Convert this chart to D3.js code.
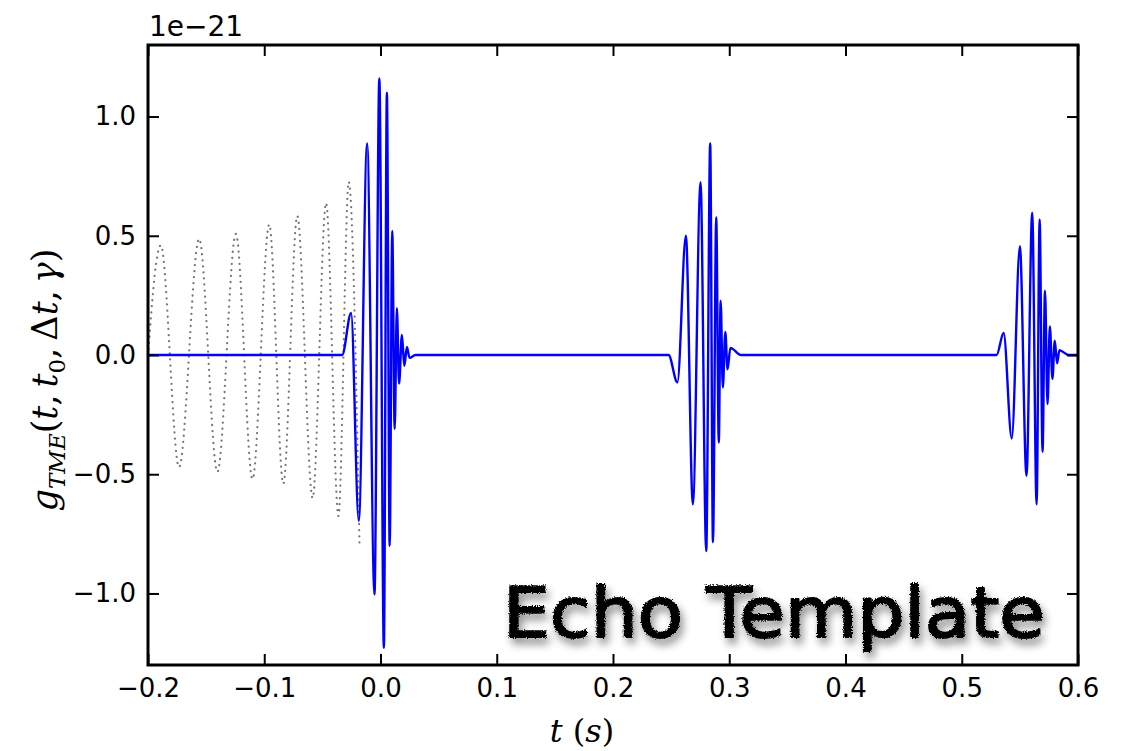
<!DOCTYPE html>
<html>
<head>
<meta charset="utf-8">
<script src="https://cdn.jsdelivr.net/npm/d3@7"></script>
<style>
  body { margin: 0; background: #fff; }
  svg { display: block; }
</style>
</head>
<body>
<div id="chart"></div>
<script>
// echo template (blue) - extrema, in units of 1e-21
const echoT = [-0.2, -0.033, -0.0253, -0.0187, -0.0115, -0.0052, -0.001, 0.0029, 0.0055, 0.0079, 0.0101, 0.0122, 0.0141, 0.016, 0.0184, 0.0205, 0.0227, 0.025, 0.03,
    0.2478, 0.2554, 0.2627, 0.2687, 0.2753, 0.2802, 0.2836, 0.286, 0.2888, 0.291, 0.2926, 0.2945, 0.2966, 0.2985, 0.301, 0.31,
    0.530, 0.536, 0.543, 0.550, 0.5557, 0.5606, 0.5644, 0.567, 0.5695, 0.5716, 0.5738, 0.5758, 0.578, 0.580, 0.582, 0.584, 0.592, 0.6];
const echoV = [0, 0, 0.176, -0.696, 0.887, -1.004, 1.16, -1.228, 1.10, -0.80, 0.52, -0.31, 0.196, -0.12, 0.084, -0.045, 0.034, -0.012, 0,
    0, -0.115, 0.50, -0.626, 0.725, -0.822, 0.887, -0.785, 0.578, -0.367, 0.228, -0.136, 0.097, -0.06, 0.03, 0,
    0, 0.092, -0.35, 0.456, -0.507, 0.597, -0.626, 0.568, -0.406, 0.27, -0.206, 0.12, -0.10, 0.06, -0.035, 0.02, 0, 0];

// inspiral part of the merger template (grey dotted)
const inspT = [-0.2055, -0.189, -0.1733, -0.156, -0.1403, -0.1244, -0.1101, -0.0957, -0.0836, -0.0716, -0.0584, -0.0468, -0.0362, -0.0273, -0.0181];
const inspV = [-0.46, 0.46, -0.47, 0.487, -0.49, 0.508, -0.52, 0.547, -0.54, 0.583, -0.60, 0.637, -0.675, 0.726, -0.79];

const xTicks = [-0.2, -0.1, 0.0, 0.1, 0.2, 0.3, 0.4, 0.5, 0.6];
const yTicks = [-1.0, -0.5, 0.0, 0.5, 1.0];

const W = 1121, H = 751;
const margin = {top: 45, right: 43, bottom: 86, left: 148};
const width = W - margin.left - margin.right,
      height = H - margin.top - margin.bottom;

const svg = d3.select("#chart").append("svg")
    .attr("width", W)
    .attr("height", H)
    .style("font-family", "'DejaVu Sans', sans-serif");

const defs = svg.append("defs");
defs.append("clipPath").attr("id", "plotclip")
  .append("rect").attr("width", width).attr("height", height);

// chalky look for the title
const rough = defs.append("filter").attr("id", "rough")
    .attr("x", "-5%").attr("y", "-20%").attr("width", "115%").attr("height", "150%");
rough.append("feTurbulence").attr("type", "fractalNoise").attr("baseFrequency", 0.9)
    .attr("numOctaves", 2).attr("seed", 3).attr("result", "noise");
rough.append("feDisplacementMap").attr("in", "SourceGraphic").attr("in2", "noise")
    .attr("scale", 4).attr("xChannelSelector", "R").attr("yChannelSelector", "G").attr("result", "rough");
rough.append("feGaussianBlur").attr("in", "rough").attr("stdDeviation", 4).attr("result", "blur");
rough.append("feOffset").attr("in", "blur").attr("dx", 3).attr("dy", 6).attr("result", "off");
rough.append("feComponentTransfer").attr("in", "off").attr("result", "shadow")
  .append("feFuncA").attr("type", "linear").attr("slope", 0.45);
const merge = rough.append("feMerge");
merge.append("feMergeNode").attr("in", "shadow");
merge.append("feMergeNode").attr("in", "rough");

const g = svg.append("g")
    .attr("transform", "translate(" + margin.left + "," + margin.top + ")");

const x = d3.scaleLinear().domain([-0.2, 0.6]).range([0, width]);
const y = d3.scaleLinear().domain([-1.3, 1.3]).range([height, 0]);

const plot = g.append("g").attr("clip-path", "url(#plotclip)");

const line = d3.line()
    .x(d => x(d[0]))
    .y(d => y(d[1]))
    .curve(d3.curveMonotoneX);

plot.append("path")
    .datum(inspT.map((t, i) => [t, inspV[i]]))
    .attr("d", line)
    .attr("fill", "none")
    .attr("stroke", "#777")
    .attr("stroke-width", 2.2)
    .attr("stroke-linecap", "round")
    .attr("stroke-dasharray", "0.1,6");

plot.append("path")
    .datum(echoT.map((t, i) => [t, echoV[i]]))
    .attr("d", line)
    .attr("fill", "none")
    .attr("stroke", "#0000ff")
    .attr("stroke-width", 2.4)
    .attr("stroke-linejoin", "round");

// axes, ticks inward on all four sides
const fmt = d3.format(".1f");
const tickSize = 11;

const xb = g.append("g").attr("transform", "translate(0," + height + ")")
    .call(d3.axisBottom(x).tickValues(xTicks).tickFormat(fmt).tickSizeInner(-tickSize).tickSizeOuter(0).tickPadding(14));
const xt = g.append("g")
    .call(d3.axisTop(x).tickValues(xTicks).tickFormat("").tickSizeInner(-tickSize).tickSizeOuter(0));
const yl = g.append("g")
    .call(d3.axisLeft(y).tickValues(yTicks).tickFormat(fmt).tickSizeInner(-tickSize).tickSizeOuter(0).tickPadding(12));
const yr = g.append("g").attr("transform", "translate(" + width + ",0)")
    .call(d3.axisRight(y).tickValues(yTicks).tickFormat("").tickSizeInner(-tickSize).tickSizeOuter(0));

[xb, xt, yl, yr].forEach(a => {
  a.select(".domain").remove();
  a.selectAll(".tick line").attr("stroke", "#000").attr("stroke-width", 2);
  a.selectAll("text").attr("fill", "#000").style("font-family", "'DejaVu Sans', sans-serif");
});
xb.selectAll("text").style("font-size", "26px");
yl.selectAll("text").style("font-size", "26px");

g.append("rect")
    .attr("width", width).attr("height", height)
    .attr("fill", "none").attr("stroke", "#000").attr("stroke-width", 3);

// offset text
svg.append("text")
    .attr("x", margin.left + 1).attr("y", 36)
    .style("font-size", "28px")
    .text("1e\u221221");

// axis labels
const xlab = svg.append("text")
    .attr("x", 582).attr("y", 742)
    .attr("text-anchor", "middle")
    .style("font-family", "'DejaVu Serif', serif")
    .style("font-size", "32px");
xlab.append("tspan").style("font-style", "italic").text("t");
xlab.append("tspan").text(" (");
xlab.append("tspan").style("font-style", "italic").text("s");
xlab.append("tspan").text(")");

const ylab = svg.append("text")
    .attr("transform", "translate(57,380) rotate(-90)")
    .attr("text-anchor", "middle")
    .style("font-family", "'DejaVu Serif', serif")
    .style("font-size", "35px");
ylab.append("tspan").style("font-style", "italic").text("g");
ylab.append("tspan").style("font-style", "italic").style("font-size", "23px").attr("dy", 8).text("TME");
ylab.append("tspan").attr("dy", -8).text("(");
ylab.append("tspan").style("font-style", "italic").text("t");
ylab.append("tspan").text(",\u2009");
ylab.append("tspan").style("font-style", "italic").text("t");
ylab.append("tspan").style("font-size", "23px").attr("dy", 8).text("0");
ylab.append("tspan").attr("dy", -8).text(",\u2009\u0394");
ylab.append("tspan").style("font-style", "italic").text("t");
ylab.append("tspan").text(",\u2009");
ylab.append("tspan").style("font-style", "italic").text("\u03b3");
ylab.append("tspan").text(")");

// hand-written style title
svg.append("text")
    .attr("x", 503).attr("y", 637)
    .attr("textLength", 542)
    .attr("lengthAdjust", "spacingAndGlyphs")
    .style("font-family", "'DejaVu Sans', sans-serif")
    .style("font-size", "70px")
    .attr("fill", "#000")
    .attr("stroke", "#000")
    .attr("stroke-width", 2)
    .attr("stroke-linejoin", "round")
    .attr("filter", "url(#rough)")
    .text("Echo Template");
</script>
</body>
</html>
